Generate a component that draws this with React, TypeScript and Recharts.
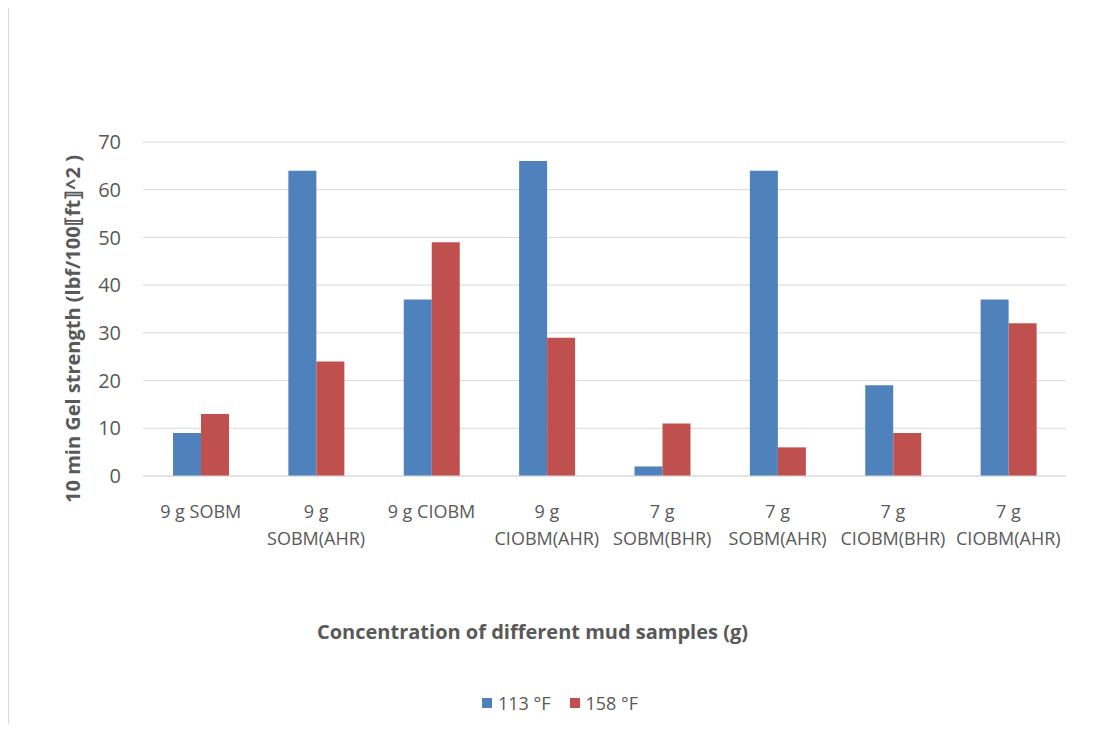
import React from 'react';
import { BarChart, Bar, XAxis, YAxis, CartesianGrid, Legend } from 'recharts';

// Categories (line breaks follow the wrapped tick labels)
const categories = [
  '9 g SOBM',
  '9 g\nSOBM(AHR)',
  '9 g CIOBM',
  '9 g\nCIOBM(AHR)',
  '7 g\nSOBM(BHR)',
  '7 g\nSOBM(AHR)',
  '7 g\nCIOBM(BHR)',
  '7 g\nCIOBM(AHR)',
];
const temp113 = [9, 64, 37, 66, 2, 64, 19, 37];
const temp158 = [13, 24, 49, 29, 11, 6, 9, 32];
const yTicks = [0, 10, 20, 30, 40, 50, 60, 70];

const data = categories.map((name, i) => ({
  name,
  t113: temp113[i],
  t158: temp158[i],
}));

const FONT = '"Open Sans", sans-serif';
const TEXT = '#595959';

const CategoryTick = (props: any) => {
  const { x, y, payload } = props;
  const lines = String(payload.value).split('\n');
  return (
    <g>
      {lines.map((line, i) => (
        <text
          key={i}
          x={x}
          y={y + 34 + i * 27}
          textAnchor="middle"
          fill={TEXT}
          fontSize={18}
          fontFamily={FONT}
        >
          {line}
        </text>
      ))}
    </g>
  );
};

const LegendContent = (props: any) => {
  const { payload } = props;
  return (
    <div
      style={{
        display: 'flex',
        justifyContent: 'center',
        alignItems: 'center',
        gap: 19,
        paddingLeft: 17,
        fontFamily: FONT,
        fontSize: 18,
        color: TEXT,
      }}
    >
      {(payload || []).map((p: any) => (
        <div key={p.value} style={{ display: 'flex', alignItems: 'center', gap: 6 }}>
          <span style={{ width: 10, height: 10, background: p.color, display: 'inline-block' }} />
          <span>{p.value}</span>
        </div>
      ))}
    </div>
  );
};

export default function App() {
  return (
    <div
      style={{
        marginTop: -1,
        width: 1085,
        height: 716,
        borderTop: '1px solid #d9d9d9',
        borderLeft: '1px solid #d9d9d9',
        background: '#fff',
      }}
    >
      <BarChart
        width={1085}
        height={716}
        data={data}
        margin={{ top: 134, right: 28, bottom: 247, left: 94 }}
        barCategoryGap="26%"
        barGap={0}
      >
        <CartesianGrid vertical={false} stroke="#d9d9d9" strokeWidth={1} />
        <XAxis
          dataKey="name"
          interval={0}
          tickLine={false}
          axisLine={{ stroke: '#d9d9d9' }}
          tick={<CategoryTick />}
          height={1}
          label={{
            content: (p: any) => {
              const vb = p.viewBox || {};
              return (
                <text
                  x={vb.x + vb.width / 2 - 72}
                  y={631}
                  textAnchor="middle"
                  fill={TEXT}
                  fontSize={20}
                  fontWeight="bold"
                  fontFamily={FONT}
                >
                  Concentration of different mud samples (g)
                </text>
              );
            },
          }}
        />
        <YAxis
          domain={[0, 70]}
          ticks={yTicks}
          width={40}
          tickLine={false}
          axisLine={false}
          tickMargin={16}
          tick={{ fill: TEXT, fontSize: 20, fontFamily: FONT }}
          label={{
            content: (p: any) => {
              const vb = p.viewBox || {};
              const cx = 63;
              const cy = vb.y + vb.height / 2 + 20;
              return (
                <text
                  x={cx}
                  y={cy}
                  transform={`rotate(-90 ${cx} ${cy})`}
                  textAnchor="middle"
                  dominantBaseline="central"
                  fill={TEXT}
                  fontSize={20}
                  fontWeight="bold"
                  fontFamily={FONT}
                >
                  10 min Gel strength (lbf/100⟦ft⟧^2 )
                </text>
              );
            },
          }}
        />
        <Legend
          layout="horizontal"
          verticalAlign="middle"
          align="center"
          wrapperStyle={{ top: 683, left: 0, width: 1085 }}
          content={<LegendContent />}
        />
        <Bar dataKey="t113" name="113 °F" fill="#4F81BD" isAnimationActive={false} />
        <Bar dataKey="t158" name="158 °F" fill="#C0504D" isAnimationActive={false} />
      </BarChart>
    </div>
  );
}
